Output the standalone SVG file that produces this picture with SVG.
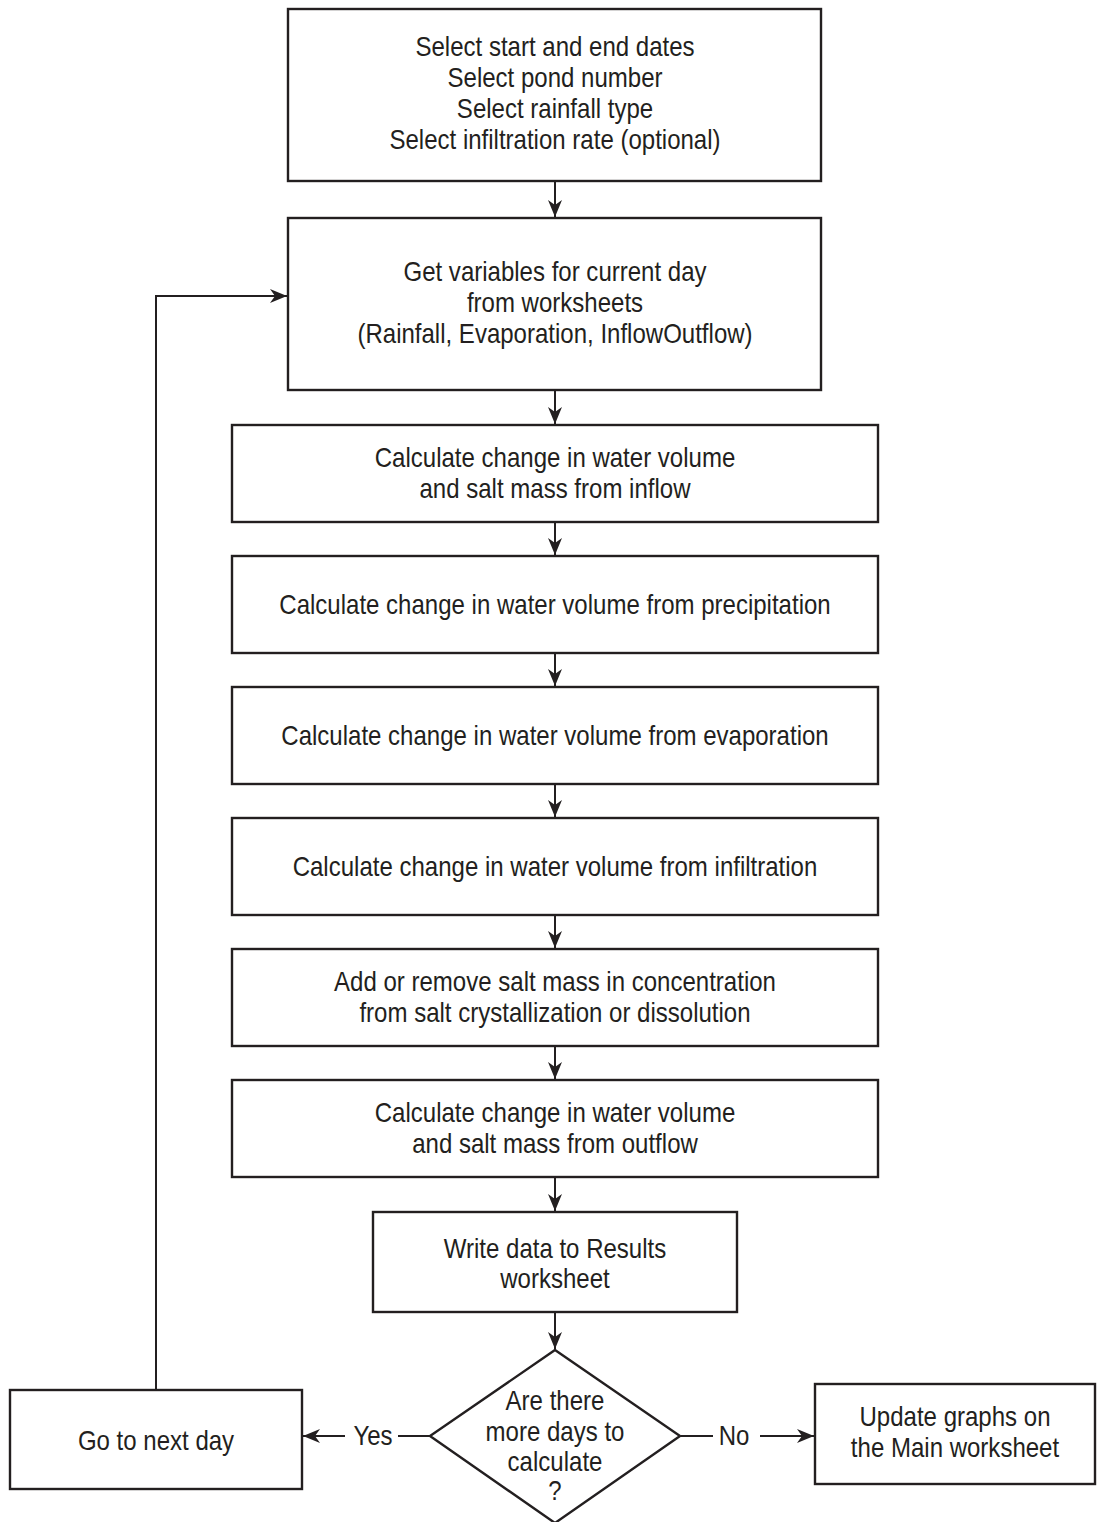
<svg xmlns="http://www.w3.org/2000/svg" width="1097" height="1522" viewBox="0 0 1097 1522">
<style>
.box{fill:#fff;stroke:#231f20;stroke-width:2.4}
.t{font-family:"Liberation Sans",Arial,sans-serif;font-size:27px;fill:#231f20;text-anchor:middle}
.c{fill:none;stroke:#231f20;stroke-width:2}
</style>
<defs>
<marker id="ah" markerUnits="userSpaceOnUse" markerWidth="20" markerHeight="16" refX="17" refY="8" orient="auto">
<path d="M0,1 L17,8 L0,15 L5,8 z" fill="#231f20"/>
</marker>
</defs>
<rect width="1097" height="1522" fill="#fff"/>
<g id="connectors">
<line class="c" x1="555" y1="181" x2="555" y2="217" marker-end="url(#ah)"/>
<line class="c" x1="555" y1="390" x2="555" y2="424" marker-end="url(#ah)"/>
<line class="c" x1="555" y1="522" x2="555" y2="555" marker-end="url(#ah)"/>
<line class="c" x1="555" y1="653" x2="555" y2="686" marker-end="url(#ah)"/>
<line class="c" x1="555" y1="784" x2="555" y2="817" marker-end="url(#ah)"/>
<line class="c" x1="555" y1="915" x2="555" y2="948" marker-end="url(#ah)"/>
<line class="c" x1="555" y1="1046" x2="555" y2="1079" marker-end="url(#ah)"/>
<line class="c" x1="555" y1="1177" x2="555" y2="1211" marker-end="url(#ah)"/>
<line class="c" x1="555" y1="1312" x2="555" y2="1349" marker-end="url(#ah)"/>
<polyline class="c" points="156,1390 156,296 287,296" marker-end="url(#ah)"/>
<line class="c" x1="430" y1="1436" x2="398" y2="1436"/>
<line class="c" x1="345" y1="1436" x2="303" y2="1436" marker-end="url(#ah)"/>
<line class="c" x1="681" y1="1436" x2="713" y2="1436"/>
<line class="c" x1="760" y1="1436" x2="814" y2="1436" marker-end="url(#ah)"/>
<text class="t" transform="translate(373,1445) scale(0.89,1)">Yes</text>
<text class="t" transform="translate(734,1445) scale(0.89,1)">No</text>
</g>
<g id="n1">
<rect class="box" x="288" y="9" width="533" height="172"/>
<text class="t" transform="translate(555,56) scale(0.89,1)">Select start and end dates</text>
<text class="t" transform="translate(555,87) scale(0.89,1)">Select pond number</text>
<text class="t" transform="translate(555,118) scale(0.89,1)">Select rainfall type</text>
<text class="t" transform="translate(555,149) scale(0.89,1)">Select infiltration rate (optional)</text>
</g>
<g id="n2">
<rect class="box" x="288" y="218" width="533" height="172"/>
<text class="t" transform="translate(555,281) scale(0.89,1)">Get variables for current day</text>
<text class="t" transform="translate(555,312) scale(0.89,1)">from worksheets</text>
<text class="t" transform="translate(555,343) scale(0.89,1)">(Rainfall, Evaporation, InflowOutflow)</text>
</g>
<g id="n3">
<rect class="box" x="232" y="425" width="646" height="97"/>
<text class="t" transform="translate(555,467) scale(0.89,1)">Calculate change in water volume</text>
<text class="t" transform="translate(555,498) scale(0.89,1)">and salt mass from inflow</text>
</g>
<g id="n4">
<rect class="box" x="232" y="556" width="646" height="97"/>
<text class="t" transform="translate(555,614) scale(0.89,1)">Calculate change in water volume from precipitation</text>
</g>
<g id="n5">
<rect class="box" x="232" y="687" width="646" height="97"/>
<text class="t" transform="translate(555,745) scale(0.89,1)">Calculate change in water volume from evaporation</text>
</g>
<g id="n6">
<rect class="box" x="232" y="818" width="646" height="97"/>
<text class="t" transform="translate(555,876) scale(0.89,1)">Calculate change in water volume from infiltration</text>
</g>
<g id="n7">
<rect class="box" x="232" y="949" width="646" height="97"/>
<text class="t" transform="translate(555,991) scale(0.89,1)">Add or remove salt mass in concentration</text>
<text class="t" transform="translate(555,1022) scale(0.89,1)">from salt crystallization or dissolution</text>
</g>
<g id="n8">
<rect class="box" x="232" y="1080" width="646" height="97"/>
<text class="t" transform="translate(555,1122) scale(0.89,1)">Calculate change in water volume</text>
<text class="t" transform="translate(555,1153) scale(0.89,1)">and salt mass from outflow</text>
</g>
<g id="n9">
<rect class="box" x="373" y="1212" width="364" height="100"/>
<text class="t" transform="translate(555,1258) scale(0.89,1)">Write data to Results</text>
<text class="t" transform="translate(555,1288) scale(0.89,1)">worksheet</text>
</g>
<g id="n10">
<polygon class="box" points="555,1350 680,1436 555,1523 430,1436"/>
<text class="t" transform="translate(555,1410) scale(0.89,1)">Are there</text>
<text class="t" transform="translate(555,1441) scale(0.89,1)">more days to</text>
<text class="t" transform="translate(555,1471) scale(0.89,1)">calculate</text>
<text class="t" transform="translate(555,1500) scale(0.89,1)">?</text>
</g>
<g id="n11">
<rect class="box" x="10" y="1390" width="292" height="99"/>
<text class="t" transform="translate(156,1450) scale(0.89,1)">Go to next day</text>
</g>
<g id="n12">
<rect class="box" x="815" y="1384" width="280" height="100"/>
<text class="t" transform="translate(955,1426) scale(0.89,1)">Update graphs on</text>
<text class="t" transform="translate(955,1457) scale(0.89,1)">the Main worksheet</text>
</g>
</svg>
